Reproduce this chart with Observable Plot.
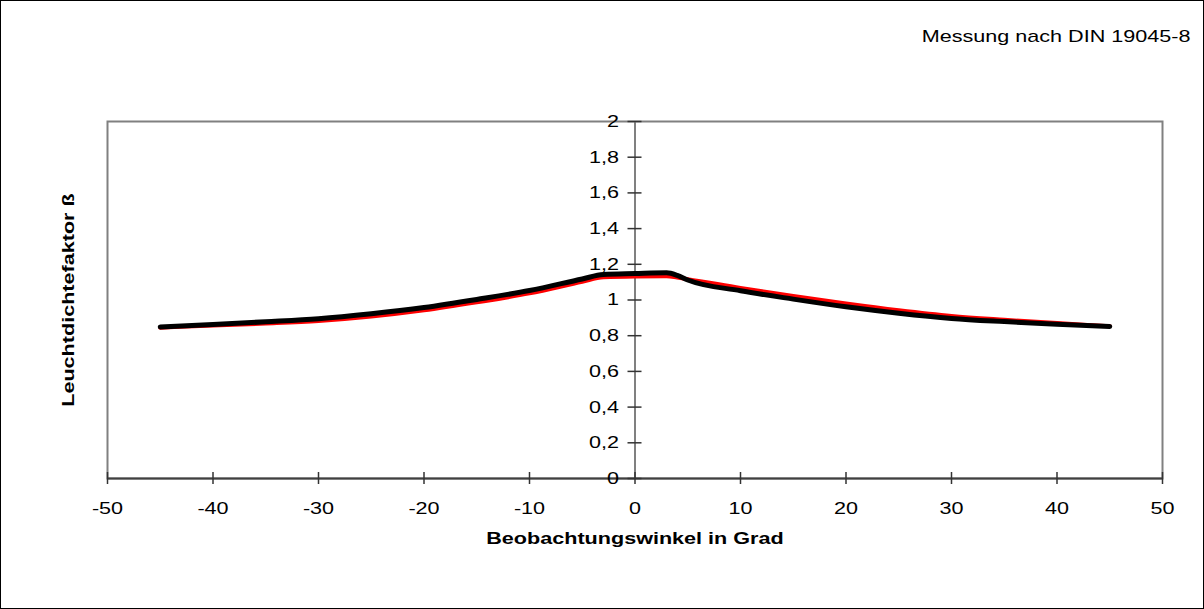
<!DOCTYPE html>
<html>
<head>
<meta charset="utf-8">
<script src="https://cdn.jsdelivr.net/npm/d3@7"></script>
<script src="https://cdn.jsdelivr.net/npm/@observablehq/plot@0.6"></script>
<style>
  html, body { margin: 0; padding: 0; background: #fff; }
  svg { display: block; outline: 1px solid #000; outline-offset: -1px; }
</style>
</head>
<body>
<div id="chart"></div>
<script>
// Observation angles (degrees)
const angles = [-45, -40, -35, -30, -25, -20, -15, -10, -5, -3, 0, 3, 4, 5, 10, 15, 20, 25, 30, 35, 40, 45];
// Luminance factor, black series
const betaBlack = [0.849, 0.863, 0.878, 0.895, 0.923, 0.958, 1.003, 1.053, 1.118, 1.143, 1.148, 1.152, 1.138, 1.112, 1.052, 1.005, 0.962, 0.926, 0.897, 0.879, 0.864, 0.852];
// Luminance factor, red series
const betaRed = [0.845, 0.857, 0.868, 0.882, 0.907, 0.942, 0.987, 1.037, 1.102, 1.127, 1.132, 1.133, 1.126, 1.117, 1.068, 1.022, 0.98, 0.942, 0.91, 0.889, 0.871, 0.853];

const xTicks = [-50, -40, -30, -20, -10, 0, 10, 20, 30, 40, 50];
const xTickLabels = ["-50", "-40", "-30", "-20", "-10", "0", "10", "20", "30", "40", "50"];
const yTicks = [0, 0.2, 0.4, 0.6, 0.8, 1, 1.2, 1.4, 1.6, 1.8, 2];
const yTickLabels = ["0", "0,2", "0,4", "0,6", "0,8", "1", "1,2", "1,4", "1,6", "1,8", "2"];

const xTitle = "Beobachtungswinkel in Grad";
const yTitle = "Leuchtdichtefaktor ß";
const note = "Messung nach DIN 19045-8";

const red = angles.map((a, i) => ({a, b: betaRed[i]}));
const black = angles.map((a, i) => ({a, b: betaBlack[i]}));
const xt = xTicks.map((v, i) => ({v, t: xTickLabels[i]}));
const yt = yTicks.map((v, i) => ({v, t: yTickLabels[i]}));

const font = "Liberation Sans, Arial, Helvetica, sans-serif";
const fs = 17;

const chart = Plot.plot({
  width: 1204,
  height: 609,
  marginLeft: 107,
  marginRight: 42,
  marginTop: 121,
  marginBottom: 131,
  style: {fontFamily: font, fontSize: fs + "px", color: "#000", background: "#fff"},
  x: {domain: [-50, 50], axis: null},
  y: {domain: [0, 2], axis: null},
  marks: [
    Plot.frame({stroke: "#808080", strokeWidth: 2}),
    Plot.ruleX([0], {stroke: "#808080", strokeWidth: 2}),
    Plot.ruleY([0], {stroke: "#404040", strokeWidth: 2}),
    Plot.ruleX(xt, {x: "v", y1: 0, y2: 0, insetTop: -6, insetBottom: -6, stroke: "#333", strokeWidth: 1.5}),
    Plot.ruleY(yt, {y: "v", x1: 0, x2: 0, insetLeft: -7, insetRight: -7, stroke: "#333", strokeWidth: 1.5}),
    Plot.text(xt, {x: "v", y: 0, text: "t", dy: 30, fontSize: fs, fill: "#000"}),
    Plot.text(yt, {x: 0, y: "v", text: "t", dx: -16, textAnchor: "end", fontSize: fs, fill: "#000"}),
    Plot.line(red, {x: "a", y: "b", stroke: "#ff0000", strokeWidth: 4, curve: "monotone-x", strokeLinecap: "round"}),
    Plot.line(black, {x: "a", y: "b", stroke: "#000", strokeWidth: 5, curve: "monotone-x", strokeLinecap: "round"}),
    Plot.text([xTitle], {frameAnchor: "bottom", text: d => d, dy: 60, lineAnchor: "middle", textAnchor: "middle", fontSize: fs, fontWeight: "bold", fill: "#000"}),
    Plot.text([yTitle], {frameAnchor: "left", text: d => d, dx: -39, rotate: -90, textAnchor: "middle", lineAnchor: "middle", fontSize: fs, fontWeight: "bold", fill: "#000"}),
    Plot.text([note], {frameAnchor: "top-right", text: d => d, dx: 28, dy: -92, textAnchor: "end", fontSize: fs, fill: "#000"})
  ]
});
document.getElementById("chart").appendChild(chart);
// Widen glyphs to match the reference's horizontally stretched lettering,
// keeping each label's original anchor point.
const stretch = 1.27;
chart.querySelectorAll("text").forEach(t => {
  const L = t.getComputedTextLength();
  if (!(L > 0)) return;
  const anchor = getComputedStyle(t).textAnchor;
  const newL = L * stretch;
  const x0 = parseFloat(t.getAttribute("x") || "0");
  const shift = anchor === "middle" ? newL / 2 : anchor === "end" ? newL : 0;
  t.setAttribute("x", (x0 - shift).toFixed(1));
  t.setAttribute("text-anchor", "start");
  t.style.textAnchor = "start";
  t.setAttribute("textLength", newL.toFixed(1));
  t.setAttribute("lengthAdjust", "spacingAndGlyphs");
});
</script>
</body>
</html>
